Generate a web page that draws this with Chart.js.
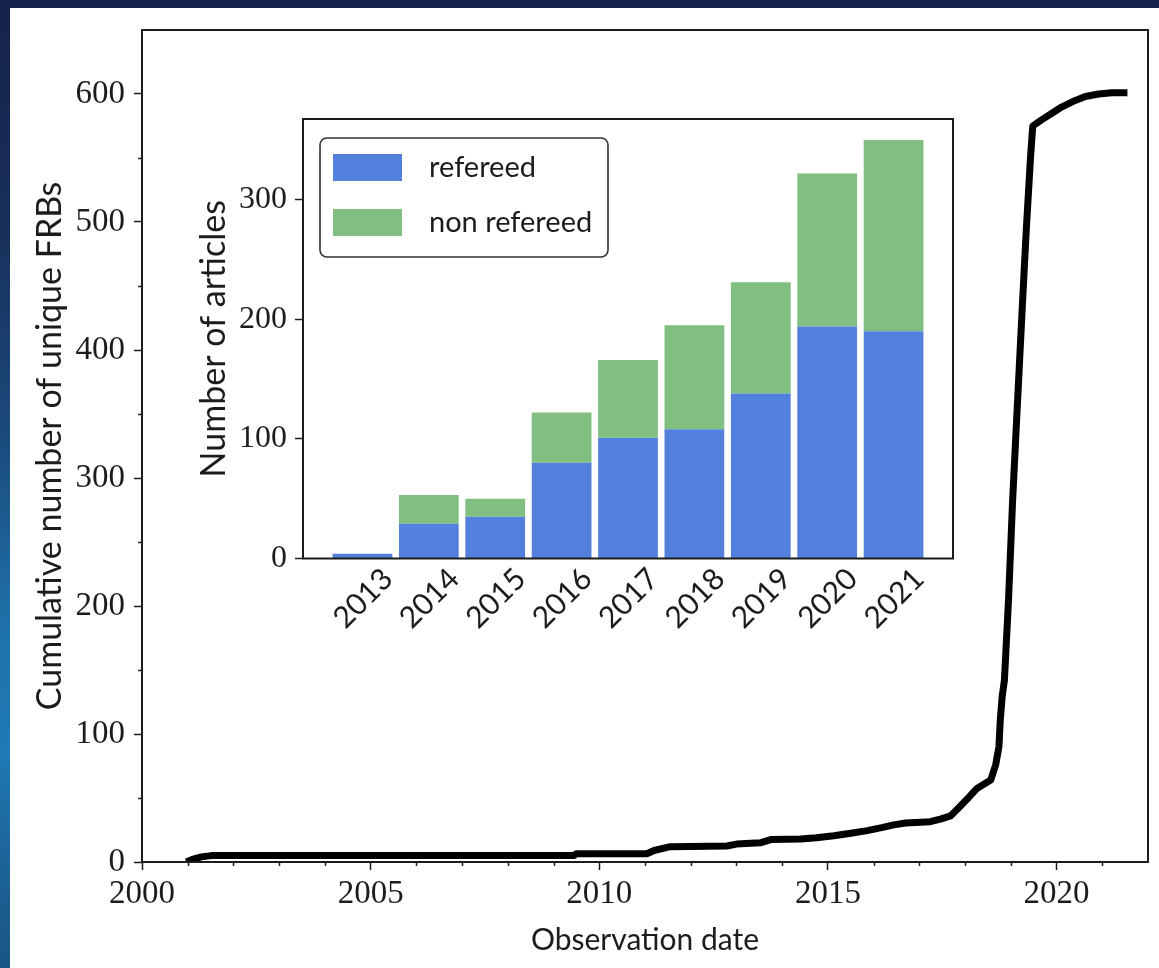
<!DOCTYPE html>
<html>
<head>
<meta charset="utf-8">
<script src="https://cdn.jsdelivr.net/npm/chart.js@4.4.1/dist/chart.umd.min.js"></script>
<style>
  html, body { margin: 0; padding: 0; width: 1159px; height: 968px; overflow: hidden; }
  body {
    position: relative;
    background: linear-gradient(180deg, #15234a 0%, #182e58 22%, #1b4a7c 45%, #1f74ad 66%, #2079b3 78%, #1c6296 90%, #1a5686 100%);
  }
  #panel { position: absolute; left: 10px; top: 8px; right: 0; bottom: 0; background: #fff; }
  #main { position: absolute; left: 0; top: 0; }
  #inset { position: absolute; left: 180px; top: 100px; }
</style>
</head>
<body>
<div id="panel"></div>
<canvas id="main" width="1159" height="968"></canvas>
<canvas id="inset" width="790" height="540"></canvas>
<script>
// Cumulative count of unique FRBs against observation date (decimal year)
const obsYear = [2000.97, 2001.10, 2001.30, 2001.52, 2009.44, 2009.50, 2011.04, 2011.20, 2011.55, 2012.79,
  2013.00, 2013.52, 2013.75, 2014.40, 2014.75, 2015.13, 2015.50, 2015.86, 2016.20, 2016.44,
  2016.70, 2017.24, 2017.46, 2017.68, 2017.85, 2018.04, 2018.26, 2018.56, 2018.67, 2018.74,
  2018.77, 2018.81, 2018.86, 2018.95, 2019.04, 2019.15, 2019.26, 2019.34, 2019.43, 2019.48,
  2019.68, 2019.90, 2020.12, 2020.41, 2020.63, 2020.92, 2021.21, 2021.55];
const frbCount = [0, 2, 4, 5, 5, 6.5, 6.5, 9, 12, 12.5,
  14, 15, 17.5, 18, 19, 20.5, 22.5, 24.5, 27, 29,
  30.5, 31.5, 33.5, 36, 42, 49, 57.5, 64, 76, 90,
  111, 129, 142, 205, 283, 362, 440, 495, 550, 575,
  580, 585, 590, 595, 598, 600, 601, 601];

// Articles per year (inset)
const articleYears = ['2013', '2014', '2015', '2016', '2017', '2018', '2019', '2020', '2021'];
const refereed     = [4, 29, 35, 80, 101, 108, 138, 194, 190];
const nonRefereed  = [0, 24, 15, 42, 65, 87, 93, 128, 160];

// Tick values
const mainXTicks  = [2000, 2005, 2010, 2015, 2020];
const mainYTicks  = [0, 100, 200, 300, 400, 500, 600];
const insetYTicks = [0, 100, 200, 300];

const INK = '#1c1c1c';
const SERIF = "'Liberation Serif', serif";
const SANS = "Lato, 'Open Sans', sans-serif";

function fixTicks(values) {
  return scale => { scale.ticks = values.map(v => ({ value: v })); };
}
function fixVertical(width) {
  return s => { s.width = width; s.paddingTop = 0; s.paddingBottom = 0; };
}

// axes frame, minor ticks and white axes face
const framePlugin = {
  id: 'frame',
  beforeDraw(chart) {
    const { ctx, chartArea: a } = chart;
    ctx.save();
    ctx.fillStyle = '#fff';
    ctx.fillRect(a.left, a.top, a.right - a.left, a.bottom - a.top);
    ctx.restore();
  },
  afterDraw(chart, args, opts) {
    const { ctx, chartArea: a, scales } = chart;
    ctx.save();
    ctx.strokeStyle = INK;
    ctx.lineWidth = 1.5;
    if (opts.minorX) {
      const s = scales.x;
      for (let v = Math.ceil(s.min); v < s.max; v += opts.minorX) {
        if (mainXTicks.includes(v)) continue;
        const px = Math.round(s.getPixelForValue(v)) + 0.5;
        ctx.beginPath(); ctx.moveTo(px, a.bottom); ctx.lineTo(px, a.bottom + 4); ctx.stroke();
      }
    }
    if (opts.minorY) {
      const s = scales.y;
      for (let v = opts.minorY; v < s.max; v += opts.minorY) {
        if (mainYTicks.includes(v)) continue;
        const py = Math.round(s.getPixelForValue(v)) + 0.5;
        ctx.beginPath(); ctx.moveTo(a.left - 4, py); ctx.lineTo(a.left, py); ctx.stroke();
      }
    }
    ctx.lineWidth = 2;
    ctx.strokeRect(a.left, a.top, a.right - a.left, a.bottom - a.top);
    ctx.restore();
  }
};

// Main cumulative curve
new Chart(document.getElementById('main'), {
  type: 'line',
  data: {
    datasets: [{
      data: obsYear.map((x, i) => ({ x: x, y: frbCount[i] })),
      borderColor: '#000',
      borderWidth: 7,
      borderJoinStyle: 'round',
      pointRadius: 0,
      fill: false,
      tension: 0
    }]
  },
  options: {
    responsive: false,
    animation: false,
    devicePixelRatio: 1,
    layout: { padding: { top: 30, right: 11, left: 0, bottom: 0 } },
    plugins: { legend: { display: false }, tooltip: { enabled: false }, frame: { minorX: 1, minorY: 50 } },
    scales: {
      x: {
        type: 'linear', min: 2000, max: 2022,
        afterFit: s => { s.height = 106; },
        afterBuildTicks: fixTicks(mainXTicks),
        ticks: { font: { family: SERIF, size: 33 }, color: INK, padding: 5, maxRotation: 0, autoSkip: false, callback: v => String(v) },
        grid: { drawOnChartArea: false, tickLength: 8, tickWidth: 1.5, tickColor: INK },
        border: { display: false },
        title: { display: true, text: 'Observation date', color: INK, font: { family: SANS, size: 30 }, padding: { top: 0, bottom: 10 } }
      },
      y: {
        type: 'linear', min: 0, max: 650,
        afterFit: fixVertical(142),
        afterBuildTicks: fixTicks(mainYTicks),
        ticks: { font: { family: SERIF, size: 33 }, color: INK, padding: 9, autoSkip: false },
        grid: { drawOnChartArea: false, tickLength: 8, tickWidth: 1.5, tickColor: INK },
        border: { display: false },
        title: { display: true, text: 'Cumulative number of unique FRBs', color: INK, font: { family: SANS, size: 34 }, padding: { top: 30, bottom: 0 } }
      }
    }
  },
  plugins: [framePlugin]
});

// legend box inside the inset axes
const insetLegend = {
  id: 'insetLegend',
  afterDraw(chart) {
    const { ctx, chartArea: a } = chart;
    const x0 = a.left + 17, y0 = a.top + 19, w = 288, h = 119;
    ctx.save();
    ctx.beginPath();
    ctx.roundRect(x0, y0, w, h, 7);
    ctx.fillStyle = 'rgba(255,255,255,0.85)';
    ctx.fill();
    ctx.strokeStyle = '#333';
    ctx.lineWidth = 1.6;
    ctx.stroke();
    ctx.font = '29px ' + SANS;
    ctx.textBaseline = 'middle';
    chart.data.datasets.forEach((ds, i) => {
      const cy = y0 + 29.5 + i * 55;
      ctx.fillStyle = ds.backgroundColor;
      ctx.fillRect(x0 + 13, cy - 13.5, 69, 27);
      ctx.fillStyle = INK;
      ctx.fillText(ds.label, x0 + 109, cy);
    });
    ctx.restore();
  }
};

// rotated year labels, centred under each bar
const insetXLabels = {
  id: 'insetXLabels',
  afterDraw(chart) {
    const { ctx, chartArea: a, scales } = chart;
    const size = 30;
    ctx.save();
    ctx.font = size + 'px ' + SANS;
    ctx.fillStyle = INK;
    ctx.textAlign = 'center';
    ctx.textBaseline = 'alphabetic';
    scales.x.ticks.forEach(t => {
      const label = articleYears[t.value];
      if (label === undefined) return;
      const w = ctx.measureText(label).width;
      const hgt = size * 0.72;
      const side = (w + hgt) * Math.SQRT1_2;
      const cx = scales.x.getPixelForValue(t.value);
      const cy = a.bottom + 7 + side / 2;
      ctx.save();
      ctx.translate(cx, cy);
      ctx.rotate(-Math.PI / 4);
      ctx.fillText(label, 0, hgt / 2);
      ctx.restore();
    });
    ctx.restore();
  }
};

// Inset: stacked bars of articles per year
const barPos = articleYears.map((_, i) => i);
new Chart(document.getElementById('inset'), {
  type: 'bar',
  data: {
    datasets: [
      { label: 'refereed', data: barPos.map(i => ({ x: i, y: refereed[i] })), backgroundColor: '#5280dc', borderWidth: 0, categoryPercentage: 0.9, barPercentage: 1.0 },
      { label: 'non refereed', data: barPos.map(i => ({ x: i, y: nonRefereed[i] })), backgroundColor: '#80bf80', borderWidth: 0, categoryPercentage: 0.9, barPercentage: 1.0 }
    ]
  },
  options: {
    responsive: false,
    animation: false,
    devicePixelRatio: 1,
    layout: { padding: { top: 19, right: 17, left: 0, bottom: 0 } },
    plugins: { legend: { display: false }, tooltip: { enabled: false } },
    scales: {
      x: {
        type: 'linear', stacked: true, offset: false, min: -0.895, max: 8.895,
        afterFit: s => { s.height = 81.5; s.paddingLeft = 0; s.paddingRight = 0; },
        afterBuildTicks: fixTicks(barPos),
        ticks: { display: false },
        grid: { display: false, offset: false },
        border: { display: false }
      },
      y: {
        type: 'linear', stacked: true, min: 0, max: 367.5,
        afterFit: fixVertical(123),
        afterBuildTicks: fixTicks(insetYTicks),
        ticks: { font: { family: SERIF, size: 32 }, color: INK, padding: 8, autoSkip: false },
        grid: { drawOnChartArea: false, tickLength: 8, tickWidth: 1.5, tickColor: INK },
        border: { display: false },
        title: { display: true, text: 'Number of articles', color: INK, font: { family: SANS, size: 34 }, padding: { top: 14, bottom: 0 } }
      }
    }
  },
  plugins: [framePlugin, insetLegend, insetXLabels]
});
</script>
</body>
</html>
